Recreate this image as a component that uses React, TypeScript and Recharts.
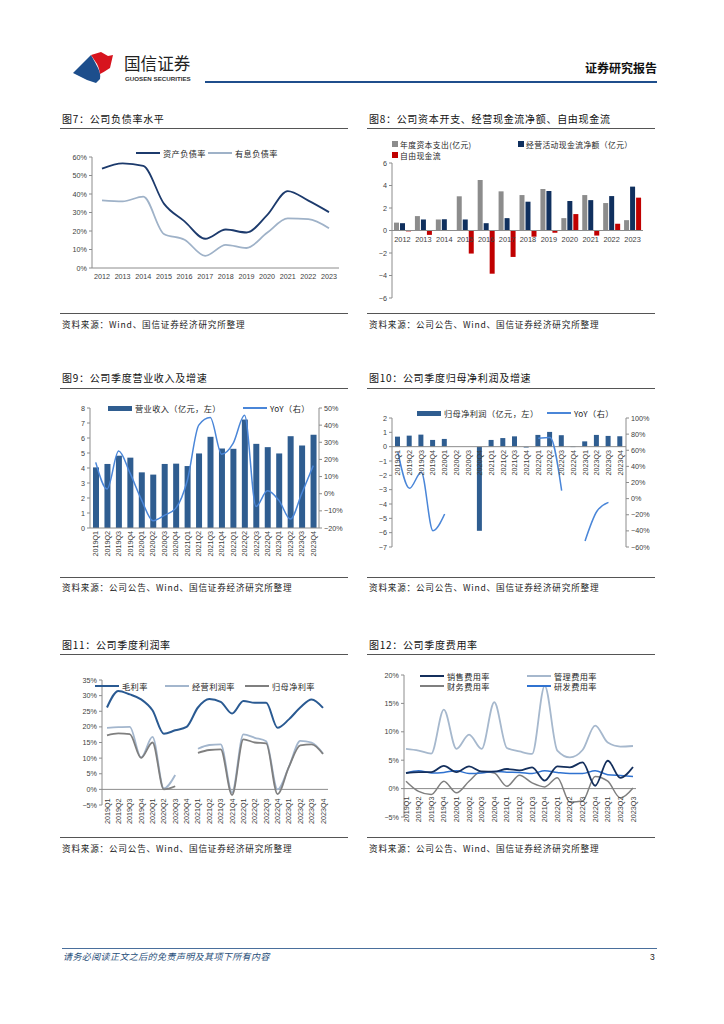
import React from 'react';
import { Bar, BarChart, ComposedChart, Line, LineChart, ReferenceLine, XAxis, YAxis } from 'recharts';

// ---- data ----
const years = ['2012', '2013', '2014', '2015', '2016', '2017', '2018', '2019', '2020', '2021', '2022', '2023'];
const assetLiabilityRatio = [53.7, 56.6, 55.2, 34.8, 25.2, 15.8, 20.8, 19.2, 28.6, 41.6, 36.4, 30.2];
const interestDebtRatio = [36.6, 36.0, 38.6, 18.4, 15.3, 6.6, 12.5, 10.8, 19.0, 26.8, 26.4, 21.5];

const capex = [0.7, 1.28, 0.98, 3.04, 4.49, 3.48, 3.15, 3.69, 1.1, 3.15, 2.44, 0.92];
const opCashFlow = [0.65, 0.98, 1.0, 0.98, 0.65, 1.1, 2.56, 3.51, 2.62, 2.7, 3.06, 3.9];
const freeCashFlow = [-0.08, -0.39, 0.02, -2.05, -3.84, -2.35, -0.55, -0.2, 1.46, -0.45, 0.6, 2.92];

const quarters = [
  '2019Q1', '2019Q2', '2019Q3', '2019Q4', '2020Q1', '2020Q2', '2020Q3', '2020Q4',
  '2021Q1', '2021Q2', '2021Q3', '2021Q4', '2022Q1', '2022Q2', '2022Q3', '2022Q4',
  '2023Q1', '2023Q2', '2023Q3', '2023Q4',
];
const revenue = [4.04, 4.27, 4.82, 4.69, 3.71, 3.56, 4.27, 4.29, 4.13, 4.97, 6.08, 5.3, 5.28, 7.23, 5.61, 5.39, 4.97, 6.12, 5.5, 6.21];
const revenueYoY = [18.3, 2.8, 24.9, 12, -3.6, -15.7, -12.6, -8.4, 7.7, 40, 44.4, 23, 29.3, 45.7, -7.4, 1.7, -3.9, -14.8, 0.3, 16.4];

const netProfit = [0.7, 0.77, 0.84, 0.47, 0.54, null, null, -5.87, 0.47, 0.6, 0.72, -0.06, 0.82, 1.03, 0.8, -0.03, 0.37, 0.82, 0.75, 0.72];
const netProfitYoY = [57.6, 12.8, 32.7, -39.8, -19, null, null, null, null, null, null, null, 75, 75.8, 10, null, -52.6, -16, -4.6, null];

const grossMargin = [26.2, 31.5, 30.4, 28.8, 25.3, 17.8, 18.9, 20, 26.2, 28.9, 28, 24.3, 28.3, 27.7, 27.7, 19.7, 22.4, 26.2, 28.8, 26.1];
const operatingMargin = [19.7, 19.9, 20, 10.2, 16.8, 0.3, 4.6, null, 13.0, 14.2, 14.4, -1.0, 17.6, 16.5, 15.4, 0, 7.2, 15.5, 15.0, 11.5];
const netMargin = [17.3, 17.9, 17.7, 10.1, 15.0, 0, 1.0, null, 11.7, 12.6, 12.8, -1.8, 16.0, 15.0, 14.7, -1.5, 7.2, 14.1, 14.4, 11.3];

const quartersTo23Q3 = quarters.slice(0, 19);
const sellingRate = [2.75, 2.9, 2.9, 4.0, 2.9, 3.9, 3.0, 3.0, 3.45, 3.2, 3.75, 1.4, 3.9, 3.75, 4.6, 0.5, 4.9, 1.9, 3.8];
const adminRate = [7.0, 6.7, 6.15, 13.9, 7.0, 9.5, 7.0, 15.2, 7.15, 6.55, 6.1, 18.1, 6.7, 5.5, 6.8, 11.1, 8.1, 7.4, 7.5];
const financeRate = [1.3, -0.5, -1.05, 1.3, -0.75, 1.3, 3.05, 2.75, 0.4, 2.35, 1.0, 0.3, 1.9, -2.4, -2.2, 2.15, 1.3, -1.65, 0.1];
const rdRate = [2.75, 3.15, 2.75, 2.85, 3.15, 2.65, 2.75, 3.0, 2.9, 2.85, 2.65, 3.15, 2.85, 2.65, 2.65, 3.15, 2.45, 2.3, 2.15];

const debtData = years.map((y, i) => ({ y, a: assetLiabilityRatio[i], b: interestDebtRatio[i] }));
const cashData = years.map((y, i) => ({ y, capex: capex[i], op: opCashFlow[i], fcf: freeCashFlow[i] }));
const revData = quarters.map((q, i) => ({ q, rev: revenue[i], yoy: revenueYoY[i] }));
const profitData = quarters.map((q, i) => ({ q, np: netProfit[i], yoy: netProfitYoY[i] }));
const marginData = quarters.map((q, i) => ({ q, gm: grossMargin[i], om: operatingMargin[i], nm: netMargin[i] }));
const feeData = quartersTo23Q3.map((q, i) => ({ q, s: sellingRate[i], a: adminRate[i], f: financeRate[i], r: rdRate[i] }));

const CJK = '"Noto Sans CJK SC", "Noto Sans", sans-serif';
const NUM = '"Liberation Sans", Arial, "Noto Sans CJK SC", sans-serif';
const tickStyle = { fontSize: 7.2, fill: '#404040' };
const axisGrey = '#8c8c8c';
const minus = (s: string) => s.replace('-', '−');
const pct = (v: number) => minus(`${v}%`);

function RotTick(props: any) {
  const { x, y, payload, shift = 0 } = props;
  return (
    <text
      transform={`translate(${x},${y - shift}) rotate(-90)`}
      textAnchor="end"
      dominantBaseline="central"
      fontSize={7.2}
      fill="#404040"
    >
      {payload.value}
    </text>
  );
}

function ZeroTick(props: any) {
  const { x, y, payload, shift = 0 } = props;
  return (
    <text x={x} y={y - shift} textAnchor="middle" dominantBaseline="hanging" fontSize={7.4} fill="#404040">
      {payload.value}
    </text>
  );
}

type LegendItem = { kind: 'line' | 'rect' | 'square'; color: string; x: number; y: number; label: string; w?: number; thick?: number; size?: number };

function Legend({ items }: { items: LegendItem[] }) {
  return (
    <>
      {items.map((it) => {
        const w = it.w ?? 24;
        const mark =
          it.kind === 'square' ? (
            <div style={{ position: 'absolute', left: it.x, top: it.y - 3, width: 6, height: 6, background: it.color }} />
          ) : it.kind === 'rect' ? (
            <div style={{ position: 'absolute', left: it.x, top: it.y - 2.5, width: w, height: 5, background: it.color }} />
          ) : (
            <div style={{ position: 'absolute', left: it.x, top: it.y - (it.thick ?? 1.8) / 2, width: w, height: it.thick ?? 1.8, background: it.color }} />
          );
        const tx = it.kind === 'square' ? it.x + 8 : it.x + w + 3;
        return (
          <React.Fragment key={it.label}>
            {mark}
            <div style={{ position: 'absolute', left: tx, top: it.y - 4.5, height: 9, lineHeight: '9px', fontSize: it.size ?? 8.2, letterSpacing: 0.4, color: '#262626', whiteSpace: 'nowrap', fontFamily: CJK }}>
              {it.label}
            </div>
          </React.Fragment>
        );
      })}
    </>
  );
}

type Row = { title: number; line: number; srcLine: number; src: number };
const rows: Row[] = [
  { title: 119, line: 128, srcLine: 313, src: 324 },
  { title: 378, line: 388, srcLine: 577, src: 587 },
  { title: 645, line: 654, srcLine: 837, src: 848 },
];

function Frame({ x, row, title, source }: { x: number; row: Row; title: string; source: string }) {
  return (
    <>
      <div style={{ position: 'absolute', left: x + 2, top: row.title - 7, fontSize: 10, letterSpacing: 0.7, lineHeight: '14px', color: '#111', whiteSpace: 'nowrap', fontFamily: CJK }}>
        {title}
      </div>
      <div style={{ position: 'absolute', left: x, top: row.line, width: 288, height: 1, background: '#555' }} />
      <div style={{ position: 'absolute', left: x, top: row.srcLine, width: 288, height: 1, background: '#555' }} />
      <div style={{ position: 'absolute', left: x + 2, top: row.src - 6, fontSize: 8.6, letterSpacing: 0.8, lineHeight: '12px', color: '#222', whiteSpace: 'nowrap', fontFamily: CJK }}>
        {source}
      </div>
    </>
  );
}

const SRC = '资料来源：公司公告、Wind、国信证券经济研究所整理';

export default function App() {
  return (
    <div style={{ position: 'absolute', left: 0, top: 0, width: 724, height: 1024, background: '#fff', overflow: 'hidden', fontFamily: NUM }}>
      {/* header */}
      <svg style={{ position: 'absolute', left: 0, top: 0 }} width={724} height={100}>
        <path d="M73 73 L91 55 Q95 62 98 68 Q101 74 100 79 L96 83 L87 80 Z" fill="#1d4e8c" />
        <path d="M91 55 L101 52 L108 56 L113 55 L110 68 Q104 72 100 74 Q99 66 95 61 Z" fill="#d7141e" />
        <text x={124} y={70} fontSize={16.6} fill="#222" fontFamily={CJK}>国信证券</text>
        <text x={125} y={80.5} fontSize={6.2} fontWeight="bold" fill="#333" fontFamily={NUM}>GUOSEN SECURITIES</text>
        <text x={657} y={73} textAnchor="end" fontSize={12} fontWeight="bold" fill="#111" fontFamily={CJK}>证券研究报告</text>
        <line x1={205} y1={82} x2={657} y2={82} stroke="#1f4e8c" strokeWidth={2} />
      </svg>

      <Frame x={60} row={rows[0]} title="图7：公司负债率水平" source="资料来源：Wind、国信证券经济研究所整理" />
      <Frame x={367} row={rows[0]} title="图8：公司资本开支、经营现金流净额、自由现金流" source={SRC} />
      <Frame x={60} row={rows[1]} title="图9：公司季度营业收入及增速" source={SRC} />
      <Frame x={367} row={rows[1]} title="图10：公司季度归母净利润及增速" source={SRC} />
      <Frame x={60} row={rows[2]} title="图11：公司季度利润率" source={SRC} />
      <Frame x={367} row={rows[2]} title="图12：公司季度费用率" source={SRC} />

      {/* Fig 7 */}
      <div style={{ position: 'absolute', left: 60, top: 135 }}>
        <LineChart width={290} height={190} data={debtData} margin={{ top: 22, right: 11, bottom: 37, left: 0 }}>
          <XAxis dataKey="y" padding={{ left: 10, right: 10 }} interval={0} tick={tickStyle} tickLine={false} tickSize={4} tickMargin={2} axisLine={{ stroke: axisGrey }} height={20} />
          <YAxis width={32} domain={[0, 60]} ticks={[0, 10, 20, 30, 40, 50, 60]} tickFormatter={pct} tick={tickStyle} tickSize={3} axisLine={{ stroke: axisGrey }} tickLine={{ stroke: axisGrey }} />
          <Line dataKey="a" type="monotone" stroke="#1c3a6c" strokeWidth={1.8} dot={false} isAnimationActive={false} />
          <Line dataKey="b" type="monotone" stroke="#9fb2c8" strokeWidth={1.8} dot={false} isAnimationActive={false} />
        </LineChart>
      </div>
      <Legend items={[
        { kind: 'line', color: '#1c3a6c', x: 136, y: 153, label: '资产负债率' },
        { kind: 'line', color: '#9fb2c8', x: 208, y: 153, label: '有息负债率' },
      ]} />

      {/* Fig 8 */}
      <div style={{ position: 'absolute', left: 365, top: 135 }}>
        <BarChart width={290} height={180} data={cashData} margin={{ top: 28, right: 12, bottom: 0, left: 0 }} barGap={1} barCategoryGap="18%">
          <XAxis dataKey="y" interval={0} axisLine={false} tickLine={false} tickSize={0} tickMargin={0} height={17} tick={<ZeroTick shift={61.5} />} />
          <YAxis width={27} domain={[-6, 6]} ticks={[-6, -4, -2, 0, 2, 4, 6]} tickFormatter={(v: number) => minus(String(v))} tick={tickStyle} tickSize={3} axisLine={{ stroke: axisGrey }} tickLine={{ stroke: axisGrey }} />
          <ReferenceLine y={0} stroke={axisGrey} />
          <Bar dataKey="capex" fill="#8c8c8c" barSize={5} isAnimationActive={false} />
          <Bar dataKey="op" fill="#10305e" barSize={5} isAnimationActive={false} />
          <Bar dataKey="fcf" fill="#c00000" barSize={5} isAnimationActive={false} />
        </BarChart>
      </div>
      <Legend items={[
        { kind: 'square', color: '#8c8c8c', x: 392, y: 144, label: '年度资本支出(亿元)', size: 7.8 },
        { kind: 'square', color: '#10305e', x: 518, y: 144, label: '经营活动现金流净额（亿元）', size: 7.8 },
        { kind: 'square', color: '#c00000', x: 392, y: 155, label: '自由现金流', size: 7.8 },
      ]} />

      {/* Fig 9 */}
      <div style={{ position: 'absolute', left: 60, top: 385 }}>
        <ComposedChart width={290} height={185} data={revData} margin={{ top: 23, right: 0, bottom: 7, left: 0 }}>
          <XAxis dataKey="q" interval={0} tickLine={false} tickSize={0} tickMargin={0} axisLine={{ stroke: axisGrey }} height={35} tick={<RotTick shift={-3} />} />
          <YAxis yAxisId="l" width={30} domain={[0, 8]} ticks={[0, 1, 2, 3, 4, 5, 6, 7, 8]} tick={tickStyle} tickSize={3} axisLine={{ stroke: axisGrey }} tickLine={{ stroke: axisGrey }} />
          <YAxis yAxisId="r" orientation="right" width={31} domain={[-20, 50]} ticks={[-20, -10, 0, 10, 20, 30, 40, 50]} tickFormatter={pct} tick={tickStyle} tickSize={3} axisLine={{ stroke: axisGrey }} tickLine={{ stroke: axisGrey }} />
          <Bar yAxisId="l" dataKey="rev" fill="#2f5d90" barSize={6} isAnimationActive={false} />
          <Line yAxisId="r" dataKey="yoy" type="monotone" stroke="#4a86d8" strokeWidth={1.5} dot={false} isAnimationActive={false} />
        </ComposedChart>
      </div>
      <Legend items={[
        { kind: 'rect', color: '#2f5d90', x: 108, y: 408, label: '营业收入（亿元，左）' },
        { kind: 'line', color: '#4a86d8', x: 243, y: 408, label: 'YoY（右）', thick: 1.5 },
      ]} />

      {/* Fig 10 */}
      <div style={{ position: 'absolute', left: 365, top: 395 }}>
        <ComposedChart width={290} height={175} data={profitData} margin={{ top: 23, right: 0, bottom: 13, left: 0 }}>
          <XAxis dataKey="q" interval={0} axisLine={false} tickLine={false} tickSize={0} tickMargin={0} height={10} tick={<RotTick shift={97} />} />
          <YAxis yAxisId="l" width={27} domain={[-7, 2]} ticks={[-7, -6, -5, -4, -3, -2, -1, 0, 1, 2]} tickFormatter={(v: number) => minus(String(v))} tick={tickStyle} tickSize={3} axisLine={{ stroke: axisGrey }} tickLine={{ stroke: axisGrey }} />
          <YAxis yAxisId="r" orientation="right" width={29} domain={[-60, 100]} ticks={[-60, -40, -20, 0, 20, 40, 60, 80, 100]} tickFormatter={pct} tick={tickStyle} tickSize={3} axisLine={{ stroke: axisGrey }} tickLine={{ stroke: axisGrey }} />
          <ReferenceLine yAxisId="l" y={0} stroke={axisGrey} />
          <Bar yAxisId="l" dataKey="np" fill="#2f5d90" barSize={5} isAnimationActive={false} />
          <Line yAxisId="r" dataKey="yoy" type="monotone" stroke="#4a86d8" strokeWidth={1.5} dot={false} connectNulls={false} isAnimationActive={false} />
        </ComposedChart>
      </div>
      <Legend items={[
        { kind: 'rect', color: '#2f5d90', x: 417, y: 413, label: '归母净利润（亿元，左）' },
        { kind: 'line', color: '#4a86d8', x: 547, y: 413, label: 'YoY（右）', thick: 1.5 },
      ]} />

      {/* Fig 11 */}
      <div style={{ position: 'absolute', left: 60, top: 655 }}>
        <LineChart width={290} height={180} data={marginData} margin={{ top: 25, right: 22, bottom: 20, left: 0 }}>
          <XAxis dataKey="q" interval={0} padding={{ left: 5, right: 5 }} axisLine={false} tickLine={false} tickSize={0} tickMargin={0} height={10} tick={<RotTick shift={6.6} />} />
          <YAxis width={42} domain={[-5, 35]} ticks={[-5, 0, 5, 10, 15, 20, 25, 30, 35]} tickFormatter={pct} tick={tickStyle} tickSize={3} axisLine={{ stroke: axisGrey }} tickLine={{ stroke: axisGrey }} />
          <ReferenceLine y={0} stroke={axisGrey} />
          <Line dataKey="gm" type="monotone" stroke="#2a5a92" strokeWidth={2} dot={false} isAnimationActive={false} />
          <Line dataKey="om" type="monotone" stroke="#a3b6cd" strokeWidth={1.8} dot={false} connectNulls={false} isAnimationActive={false} />
          <Line dataKey="nm" type="monotone" stroke="#7f7f7f" strokeWidth={1.8} dot={false} connectNulls={false} isAnimationActive={false} />
        </LineChart>
      </div>
      <Legend items={[
        { kind: 'line', color: '#2a5a92', x: 95, y: 686, label: '毛利率', thick: 2 },
        { kind: 'line', color: '#a3b6cd', x: 165, y: 686, label: '经营利润率' },
        { kind: 'line', color: '#7f7f7f', x: 245, y: 686, label: '归母净利率' },
      ]} />

      {/* Fig 12 */}
      <div style={{ position: 'absolute', left: 365, top: 655 }}>
        <LineChart width={290} height={180} data={feeData} margin={{ top: 20, right: 19, bottom: 8, left: 0 }}>
          <XAxis dataKey="q" interval={0} padding={{ left: 2, right: 3 }} axisLine={false} tickLine={false} tickSize={0} tickMargin={0} height={10} tick={<RotTick shift={20.4} />} />
          <YAxis width={39} domain={[-5, 20]} ticks={[-5, 0, 5, 10, 15, 20]} tickFormatter={pct} tick={tickStyle} tickSize={3} axisLine={{ stroke: axisGrey }} tickLine={{ stroke: axisGrey }} />
          <ReferenceLine y={0} stroke={axisGrey} />
          <Line dataKey="a" type="monotone" stroke="#a6b8cd" strokeWidth={1.8} dot={false} isAnimationActive={false} />
          <Line dataKey="f" type="monotone" stroke="#7f7f7f" strokeWidth={1.5} dot={false} isAnimationActive={false} />
          <Line dataKey="r" type="monotone" stroke="#2f72d0" strokeWidth={1.5} dot={false} isAnimationActive={false} />
          <Line dataKey="s" type="monotone" stroke="#142f5c" strokeWidth={1.8} dot={false} isAnimationActive={false} />
        </LineChart>
      </div>
      <Legend items={[
        { kind: 'line', color: '#142f5c', x: 420, y: 676, label: '销售费用率' },
        { kind: 'line', color: '#a6b8cd', x: 527, y: 676, label: '管理费用率' },
        { kind: 'line', color: '#7f7f7f', x: 420, y: 686, label: '财务费用率', thick: 1.5 },
        { kind: 'line', color: '#2f72d0', x: 527, y: 686, label: '研发费用率', thick: 1.5 },
      ]} />

      {/* footer */}
      <div style={{ position: 'absolute', left: 62, top: 948, width: 595, height: 1, background: '#4a6f9c' }} />
      <div style={{ position: 'absolute', left: 63, top: 951, fontSize: 9, letterSpacing: 0.4, lineHeight: '12px', fontStyle: 'italic', color: '#1f4e79', whiteSpace: 'nowrap', fontFamily: CJK }}>
        请务必阅读正文之后的免责声明及其项下所有内容
      </div>
      <div style={{ position: 'absolute', left: 650, top: 951, fontSize: 8.5, lineHeight: '12px', color: '#222', fontFamily: NUM }}>3</div>
    </div>
  );
}
